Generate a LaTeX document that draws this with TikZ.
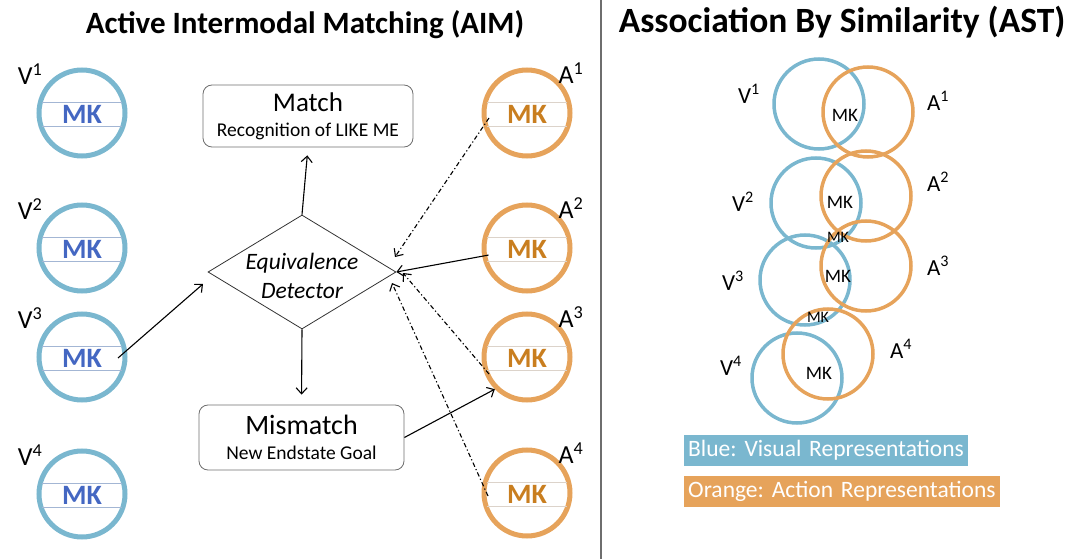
\documentclass[tikz,border=0pt]{standalone}
\usepackage{fontspec}
\setmainfont{Carlito}
\usetikzlibrary{shapes.geometric,arrows.meta}
\frenchspacing

\definecolor{visblue}{HTML}{7AB7CF}
\definecolor{actorange}{HTML}{E6A35B}
\definecolor{mkblue}{HTML}{4467C2}
\definecolor{mkorange}{HTML}{C97E1F}
\definecolor{bandblue}{HTML}{A3B6D4}
\definecolor{bandgrey}{HTML}{DCD3CA}
\definecolor{boxgrey}{HTML}{6E6E6E}

\tikzset{
  bigring/.style={circle, draw=#1, line width=5pt, minimum size=86pt, inner sep=0pt},
  smallring/.style={circle, draw=#1, line width=3.5pt, minimum size=90pt, inner sep=0pt},
  mkbig/.style={font=\fontsize{28}{28}\selectfont\bfseries, text=#1, inner sep=0pt},
  mksmall/.style={font=\fontsize{19}{19}\selectfont, inner sep=0pt},
  ringname/.style={font=\fontsize{26}{26}\selectfont, inner sep=0pt},
  infobox/.style={draw=boxgrey, line width=0.8pt, rounded corners=9pt, align=center, inner sep=0pt,
    font=\fontsize{19.5}{25}\selectfont},
  flow/.style={-{Straight Barb[length=6pt,width=11pt]}, line width=1.1pt},
  dashflow/.style={flow, dash pattern=on 4.5pt off 2.5pt on 1.2pt off 2.5pt},
  legend/.style={anchor=west, text=white, inner xsep=4pt, inner ysep=0pt, minimum height=31pt, font=\fontsize{23.5}{23.5}\selectfont}
}

\begin{document}
\begin{tikzpicture}[x=1pt, y=-1pt]
\useasboundingbox (0,0) rectangle (1072,559);

% divider between the two halves
\draw[boxgrey, line width=1.2pt] (601,0) -- (601,559);

% titles
\node[font=\fontsize{31}{31}\selectfont\bfseries] (aimtitle) at (305,25) {Active Intermodal Matching (AIM)};
\node[font=\fontsize{35.5}{36}\selectfont\bfseries] (asttitle) at (842,22) {Association By Similarity (AST)};

% visual representations (left column)
\foreach \n/\y in {1/113,2/248,3/357,4/494}{
  \node[bigring=visblue] (v\n) at (82,\y) {};
  \draw[bandblue, line width=0.8pt] (42,\y-11) -- (122,\y-11) (42,\y+13) -- (122,\y+13);
  \node[mkbig=mkblue] (vmk\n) at (82,\y+1) {MK};
  \node[ringname] (vname\n) at (30,\y-39) {V\textsuperscript{\n}};
}

% action representations (right column)
\foreach \n/\y in {1/113,2/248,3/357,4/493}{
  \node[bigring=actorange] (a\n) at (527,\y) {};
  \draw[bandgrey, line width=0.8pt] (487,\y-11) -- (567,\y-11) (487,\y+13) -- (567,\y+13);
  \node[mkbig=mkorange] (amk\n) at (527,\y+1) {MK};
  \node[ringname] (aname\n) at (571,\y-40) {A\textsuperscript{\n}};
}

% match / detector / mismatch
\node[infobox, minimum width=210pt, minimum height=62pt] (match) at (308,116)
  {{\fontsize{27}{27}\selectfont Match}\\ Recognition of LIKE ME};
\node[diamond, draw=black!80, line width=0.8pt, minimum width=188pt, minimum height=114pt, inner sep=0pt] (det) at (302,272) {};
\node[font=\fontsize{23.5}{29}\selectfont\itshape, align=center, inner sep=0pt] (dettext) at (302,276) {Equivalence\\Detector};
\node[infobox, minimum width=205pt, minimum height=65pt] (mismatch) at (301.5,437.5)
  {{\fontsize{28}{28}\selectfont Mismatch}\\ New Endstate Goal};

% loose ends of the connectors
\coordinate (vout) at (118,358);
\coordinate (detin) at (203,284);
\coordinate (a1out) at (489,118);
\coordinate (a3out) at (489,374);
\coordinate (a4out) at (488,496);
\coordinate (d1) at (395,257);
\coordinate (d3) at (403,273);
\coordinate (d4) at (392,283);

\draw[flow] (vout) -- (detin);
\draw[flow, shorten >=8pt] (det.north) -- (match.south);
\draw[flow, shorten >=10pt] (det.south) -- (mismatch.north);
\draw[flow, shorten <=39pt] (a2.center) -- (det.east);
\draw[flow] (mismatch.east) -- (a3.225);
\draw[dashflow] (a1out) -- (d1);
\draw[dashflow] (a3out) -- (d3);
\draw[dashflow] (a4out) -- (d4);

% overlapping rings
\node[smallring=visblue] (sv1) at (819,104) {};
\node[smallring=visblue] (sv2) at (816,203) {};
\node[smallring=visblue] (sv3) at (805,280) {};
\node[smallring=visblue] (sv4) at (797,378) {};
\node[smallring=actorange] (sa1) at (868,112) {};
\node[smallring=actorange] (sa2) at (866,196) {};
\node[smallring=actorange] (sa3) at (866,266) {};
\node[smallring=actorange] (sa4) at (828,354) {};

\node[mksmall] (smk1) at (845,115) {MK};
\node[mksmall] (smk2) at (840,202) {MK};
\node[mksmall] (smk3) at (838,276) {MK};
\node[mksmall] (smk4) at (819,373) {MK};
\node[mksmall, font=\fontsize{16}{16}\selectfont] (smk12) at (838,237) {MK};
\node[mksmall, font=\fontsize{16}{16}\selectfont] (smk34) at (818,317) {MK};

\node[ringname, font=\fontsize{23}{23}\selectfont] (svname1) at (749,94) {V\textsuperscript{1}};
\node[ringname, font=\fontsize{23}{23}\selectfont] (svname2) at (743,202) {V\textsuperscript{2}};
\node[ringname, font=\fontsize{23}{23}\selectfont] (svname3) at (733,281) {V\textsuperscript{3}};
\node[ringname, font=\fontsize{23}{23}\selectfont] (svname4) at (731,366) {V\textsuperscript{4}};
\node[ringname, font=\fontsize{23}{23}\selectfont] (saname1) at (938,101) {A\textsuperscript{1}};
\node[ringname, font=\fontsize{23}{23}\selectfont] (saname2) at (938,182) {A\textsuperscript{2}};
\node[ringname, font=\fontsize{23}{23}\selectfont] (saname3) at (938,266) {A\textsuperscript{3}};
\node[ringname, font=\fontsize{23}{23}\selectfont] (saname4) at (901,349) {A\textsuperscript{4}};

% legend
\node[legend, fill=visblue, text width=276pt] (keyblue) at (684,450.5) {Blue: Visual Representations};
\node[legend, fill=actorange, text width=308pt] (keyorange) at (684,491) {Orange: Action Representations};
\end{tikzpicture}
\end{document}
